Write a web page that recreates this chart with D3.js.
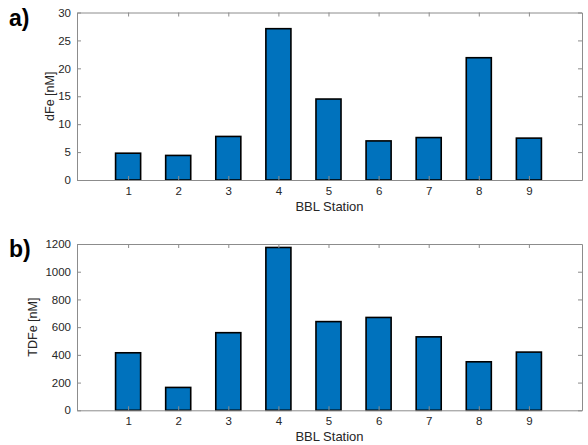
<!DOCTYPE html>
<html><head><meta charset="utf-8">
<script src="https://cdn.jsdelivr.net/npm/d3@7"></script>
<style>body{margin:0;background:#fff}svg{display:block}text{font-family:"Liberation Sans",Arial,sans-serif}</style>
</head><body>
<svg id="c" width="588" height="445"></svg>
<script>
const stations = [1,2,3,4,5,6,7,8,9];
const dFe = [4.8, 4.4, 7.8, 27.1, 14.5, 7.0, 7.6, 21.9, 7.5];
const tdFe = [415, 165, 560, 1175, 640, 670, 530, 350, 420];
const dFeTicks = [0,5,10,15,20,25,30];
const tdFeTicks = [0,200,400,600,800,1000,1200];

const svg = d3.select("#c");
const axisColor = "#8c8c8c", textColor = "#262626", barColor = "#0072BD";

function panel(opts){
  const g = svg.append("g");
  const x = d3.scaleLinear().domain([-0.02, 10.06]).range([77, 582]);
  const y = d3.scaleLinear().domain(opts.ydom).range([opts.bottom, opts.top]);
  g.selectAll("rect.bar").data(opts.values).join("rect")
    .attr("x", (d,i)=>x(stations[i]-0.25))
    .attr("width", x(0.5)-x(0))
    .attr("y", d=>y(d))
    .attr("height", d=>y(0)-y(d))
    .attr("fill", barColor).attr("stroke", "#000").attr("stroke-width", 1.6);
  const bottomAx = d3.axisBottom(x).tickValues(stations).tickSizeInner(-4).tickSizeOuter(0).tickPadding(7).tickFormat(d3.format("d"));
  const topAx = d3.axisTop(x).tickValues(stations).tickSizeInner(-4).tickSizeOuter(0).tickFormat("");
  const leftAx = d3.axisLeft(y).tickValues(opts.ticks).tickSizeInner(-4).tickSizeOuter(0).tickPadding(6).tickFormat(d3.format("d"));
  const rightAx = d3.axisRight(y).tickValues(opts.ticks).tickSizeInner(-4).tickSizeOuter(0).tickFormat("");
  const style = sel => {
    sel.selectAll("path").attr("stroke", axisColor).attr("stroke-width", 1);
    sel.selectAll("line").attr("stroke", axisColor).attr("stroke-width", 1);
    sel.selectAll("text").attr("fill", textColor).style("font-size", "11.5px").style("font-family", '"Liberation Sans",Arial,sans-serif');
  };
  g.append("g").attr("transform", `translate(0,${opts.bottom})`).call(bottomAx).call(style);
  g.append("g").attr("transform", `translate(0,${opts.top})`).call(topAx).call(style);
  g.append("g").attr("transform", `translate(77,0)`).call(leftAx).call(style);
  g.append("g").attr("transform", `translate(582,0)`).call(rightAx).call(style);
  g.append("text").attr("x", (77+582)/2).attr("y", opts.bottom+31).attr("text-anchor","middle")
    .attr("fill", textColor).style("font-size","13px").text("BBL Station");
  g.append("text").attr("transform", `translate(${opts.ylx},${(opts.top+opts.bottom)/2}) rotate(-90)`)
    .attr("text-anchor","middle").attr("dy","0.35em").attr("fill", textColor).style("font-size","12.5px").text(opts.ylabel);
  g.append("text").attr("x", 9).attr("y", opts.top+13).attr("fill","#000")
    .style("font-size","23px").style("font-weight","bold").text(opts.tag);
}

panel({values: dFe, ydom:[0,30], ticks: dFeTicks, top:12.5, bottom:180, ylabel:"dFe [nM]", ylx:50, tag:"a)"});
panel({values: tdFe, ydom:[0,1200], ticks: tdFeTicks, top:244, bottom:410.3, ylabel:"TDFe [nM]", ylx:33, tag:"b)"});
</script>
</body></html>
